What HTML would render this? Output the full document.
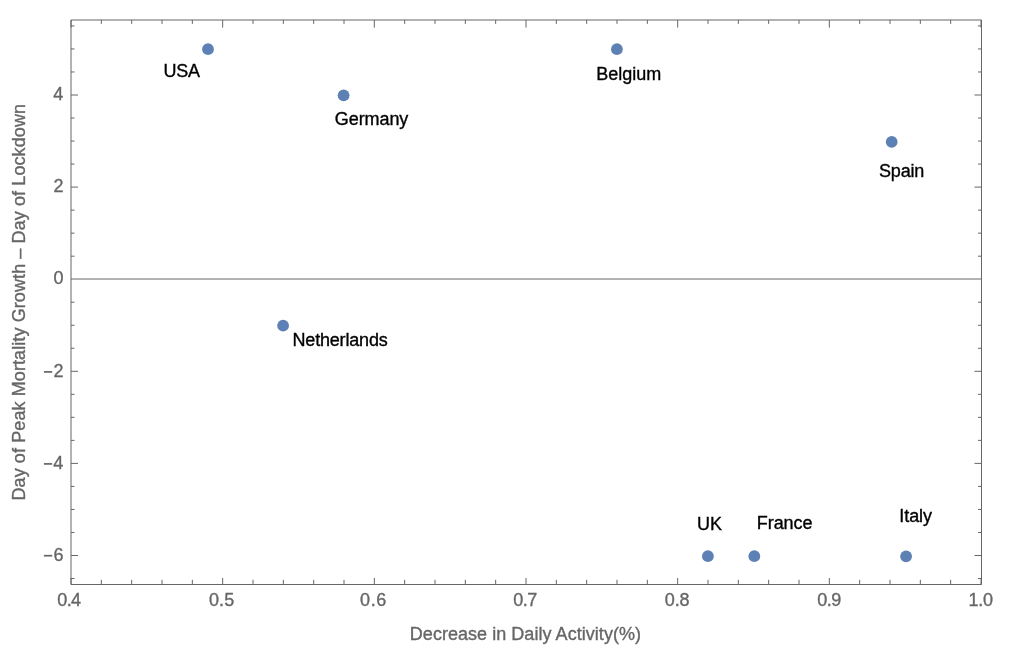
<!DOCTYPE html>
<html><head><meta charset="utf-8"><style>
html,body{margin:0;padding:0;background:#fff;width:1023px;height:650px;overflow:hidden}
svg{display:block;will-change:transform}
text{font-family:"Liberation Sans",sans-serif;stroke-width:0.35px}
</style></head><body>
<svg width="1023" height="650" viewBox="0 0 1023 650">
<line x1="71" y1="279.0" x2="981.5" y2="279.0" stroke="#666" stroke-width="1"/>
<line x1="71" y1="20" x2="71" y2="584.5" stroke="#666" stroke-width="1"/>
<line x1="71" y1="584.5" x2="981.5" y2="584.5" stroke="#666" stroke-width="1"/>
<line x1="981.5" y1="20" x2="981.5" y2="584.5" stroke="#666" stroke-width="1"/>
<line x1="71" y1="20" x2="981.5" y2="20" stroke="#666" stroke-width="1"/>
<path d="M71.00 584.5v-6.5 M71.00 20v7.6 M101.33 584.5v-4.7 M101.33 20v3.9 M131.67 584.5v-4.7 M131.67 20v3.9 M162.00 584.5v-4.7 M162.00 20v3.9 M192.33 584.5v-4.7 M192.33 20v3.9 M222.67 584.5v-6.5 M222.67 20v7.6 M253.00 584.5v-4.7 M253.00 20v3.9 M283.33 584.5v-4.7 M283.33 20v3.9 M313.67 584.5v-4.7 M313.67 20v3.9 M344.00 584.5v-4.7 M344.00 20v3.9 M374.33 584.5v-6.5 M374.33 20v7.6 M404.67 584.5v-4.7 M404.67 20v3.9 M435.00 584.5v-4.7 M435.00 20v3.9 M465.33 584.5v-4.7 M465.33 20v3.9 M495.67 584.5v-4.7 M495.67 20v3.9 M526.00 584.5v-6.5 M526.00 20v7.6 M556.33 584.5v-4.7 M556.33 20v3.9 M586.67 584.5v-4.7 M586.67 20v3.9 M617.00 584.5v-4.7 M617.00 20v3.9 M647.33 584.5v-4.7 M647.33 20v3.9 M677.67 584.5v-6.5 M677.67 20v7.6 M708.00 584.5v-4.7 M708.00 20v3.9 M738.33 584.5v-4.7 M738.33 20v3.9 M768.67 584.5v-4.7 M768.67 20v3.9 M799.00 584.5v-4.7 M799.00 20v3.9 M829.33 584.5v-6.5 M829.33 20v7.6 M859.67 584.5v-4.7 M859.67 20v3.9 M890.00 584.5v-4.7 M890.00 20v3.9 M920.33 584.5v-4.7 M920.33 20v3.9 M950.67 584.5v-4.7 M950.67 20v3.9 M981.00 584.5v-6.5 M981.00 20v7.6 M71 578.52h3.5 M981.5 578.52h-3.5 M71 555.50h7 M981.5 555.50h-7 M71 532.47h3.5 M981.5 532.47h-3.5 M71 509.45h3.5 M981.5 509.45h-3.5 M71 486.42h3.5 M981.5 486.42h-3.5 M71 463.40h7 M981.5 463.40h-7 M71 440.38h3.5 M981.5 440.38h-3.5 M71 417.35h3.5 M981.5 417.35h-3.5 M71 394.32h3.5 M981.5 394.32h-3.5 M71 371.30h7 M981.5 371.30h-7 M71 348.27h3.5 M981.5 348.27h-3.5 M71 325.25h3.5 M981.5 325.25h-3.5 M71 302.22h3.5 M981.5 302.22h-3.5 M71 256.18h3.5 M981.5 256.18h-3.5 M71 233.15h3.5 M981.5 233.15h-3.5 M71 210.12h3.5 M981.5 210.12h-3.5 M71 187.10h7 M981.5 187.10h-7 M71 164.07h3.5 M981.5 164.07h-3.5 M71 141.05h3.5 M981.5 141.05h-3.5 M71 118.03h3.5 M981.5 118.03h-3.5 M71 95.00h7 M981.5 95.00h-7 M71 71.97h3.5 M981.5 71.97h-3.5 M71 48.95h3.5 M981.5 48.95h-3.5 M71 25.93h3.5 M981.5 25.93h-3.5" stroke="#666" stroke-width="1" fill="none"/>
<circle cx="208.0" cy="49.15" r="5.9" fill="#5e81b5"/>
<circle cx="343.6" cy="95.3" r="5.9" fill="#5e81b5"/>
<circle cx="616.9" cy="49.15" r="5.9" fill="#5e81b5"/>
<circle cx="891.7" cy="141.9" r="5.9" fill="#5e81b5"/>
<circle cx="283.1" cy="325.7" r="5.9" fill="#5e81b5"/>
<circle cx="707.9" cy="556.2" r="5.9" fill="#5e81b5"/>
<circle cx="754.3" cy="556.2" r="5.9" fill="#5e81b5"/>
<circle cx="906.08" cy="556.3" r="5.9" fill="#5e81b5"/>
<rect x="43.9" y="371.05" width="8.30" height="1.7" fill="#666"/>
<rect x="43.9" y="463.05" width="8.30" height="1.7" fill="#666"/>
<rect x="43.9" y="554.85" width="8.30" height="1.7" fill="#666"/>
<text x="163.61" y="76.65" font-size="18" fill="#000" stroke="#000" text-anchor="start" textLength="36.39" lengthAdjust="spacing">USA</text>
<text x="334.82" y="124.78" font-size="18" fill="#000" stroke="#000" text-anchor="start" textLength="73.48" lengthAdjust="spacing">Germany</text>
<text x="596.22" y="80.36" font-size="18" fill="#000" stroke="#000" text-anchor="start" textLength="65.11" lengthAdjust="spacing">Belgium</text>
<text x="878.92" y="177.37" font-size="18" fill="#000" stroke="#000" text-anchor="start" textLength="45.44" lengthAdjust="spacing">Spain</text>
<text x="292.5" y="346.0" font-size="18" fill="#000" stroke="#000" text-anchor="start" textLength="95.2" lengthAdjust="spacing">Netherlands</text>
<text x="697.0" y="530.3" font-size="18" fill="#000" stroke="#000" text-anchor="start" textLength="25.0" lengthAdjust="spacing">UK</text>
<text x="756.76" y="529.48" font-size="18" fill="#000" stroke="#000" text-anchor="start" textLength="55.78" lengthAdjust="spacing">France</text>
<text x="899.33" y="521.85" font-size="18" fill="#000" stroke="#000" text-anchor="start" textLength="32.58" lengthAdjust="spacing">Italy</text>
<text x="53.24" y="100.25" font-size="18" fill="#666" stroke="#666" text-anchor="start">4</text>
<text x="53.55" y="192.25" font-size="18" fill="#666" stroke="#666" text-anchor="start">2</text>
<text x="53.48" y="284.25" font-size="18" fill="#666" stroke="#666" text-anchor="start">0</text>
<text x="53.55" y="377.25" font-size="18" fill="#666" stroke="#666" text-anchor="start">2</text>
<text x="53.24" y="468.9" font-size="18" fill="#666" stroke="#666" text-anchor="start">4</text>
<text x="53.48" y="561.4" font-size="18" fill="#666" stroke="#666" text-anchor="start">6</text>
<text x="57.24" y="606.38" font-size="18" fill="#666" stroke="#666" text-anchor="start" textLength="23.85" lengthAdjust="spacing">0.4</text>
<text x="209.0" y="606.38" font-size="18" fill="#666" stroke="#666" text-anchor="start" textLength="25.22" lengthAdjust="spacing">0.5</text>
<text x="360.11" y="606.38" font-size="18" fill="#666" stroke="#666" text-anchor="start" textLength="26.11" lengthAdjust="spacing">0.6</text>
<text x="513.22" y="606.38" font-size="18" fill="#666" stroke="#666" text-anchor="start" textLength="23.93" lengthAdjust="spacing">0.7</text>
<text x="664.71" y="606.38" font-size="18" fill="#666" stroke="#666" text-anchor="start" textLength="24.89" lengthAdjust="spacing">0.8</text>
<text x="817.22" y="606.38" font-size="18" fill="#666" stroke="#666" text-anchor="start" textLength="24.17" lengthAdjust="spacing">0.9</text>
<text x="968.39" y="606.38" font-size="18" fill="#666" stroke="#666" text-anchor="start" textLength="24.61" lengthAdjust="spacing">1.0</text>
<text x="409.79" y="640.47" font-size="18" fill="#666" stroke="#666" text-anchor="start" textLength="231.21" lengthAdjust="spacing">Decrease in Daily Activity(%)</text>
<text x="25" y="500.5" font-size="18" fill="#666" stroke="#666" text-anchor="start" textLength="396.5" lengthAdjust="spacing" transform="rotate(-90 25 500.5)">Day of Peak Mortality Growth – Day of Lockdown</text>
</svg>
</body></html>
